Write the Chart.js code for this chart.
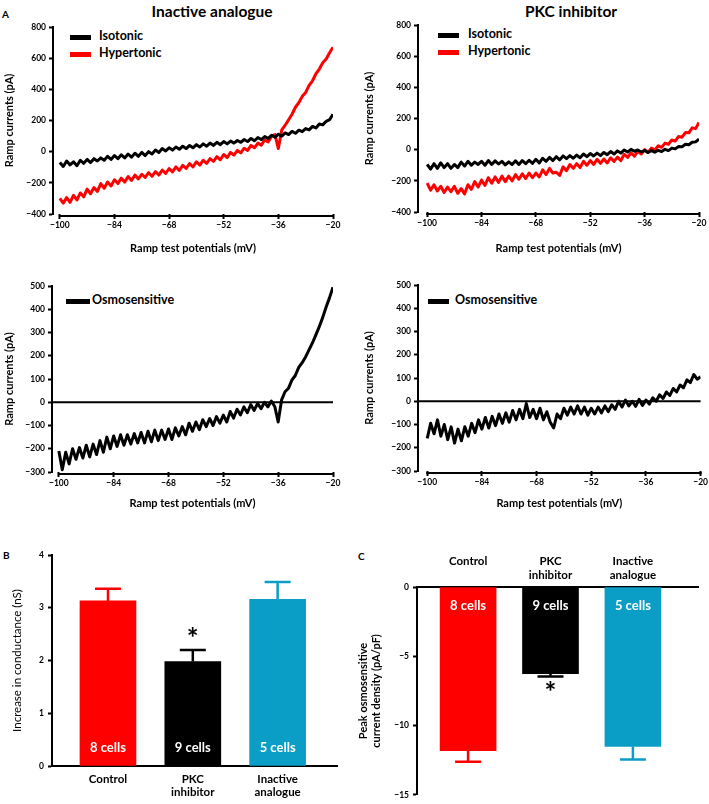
<!DOCTYPE html>
<html>
<head>
<meta charset="utf-8">
<script src="https://cdn.jsdelivr.net/npm/chart.js@4.4.1/dist/chart.umd.min.js"></script>
<style>
  body { margin: 0; background: #fff; width: 709px; height: 804px; position: relative; overflow: hidden; font-family: Lato, "Open Sans", sans-serif; }
  canvas { position: absolute; }
  .t { position: absolute; font-weight: bold; white-space: nowrap; color: #000; line-height: 1; }
  .c { transform: translate(-50%, -50%); }
  .l { transform: translateY(-50%); }
  .seg { position: absolute; height: 5px; width: 21px; }
</style>
</head>
<body>
<div class="t l" style="left:2px;top:14px;font-size:10px">A</div>
<div class="t l" style="left:3px;top:555px;font-size:10px">B</div>
<div class="t l" style="left:358px;top:556px;font-size:10px">C</div>

<div class="t c" style="left:212px;top:12px;font-size:15.5px">Inactive analogue</div>
<div class="t c" style="left:571px;top:12px;font-size:15.5px">PKC inhibitor</div>

<div class="seg" style="left:70px;top:35px;background:#000"></div>
<div class="t l" style="left:99px;top:36px;font-size:12.5px">Isotonic</div>
<div class="seg" style="left:70px;top:52px;background:#f00"></div>
<div class="t l" style="left:99px;top:53px;font-size:12.5px">Hypertonic</div>

<div class="seg" style="left:438px;top:33px;background:#000"></div>
<div class="t l" style="left:468px;top:34px;font-size:12.5px">Isotonic</div>
<div class="seg" style="left:438px;top:50px;background:#f00"></div>
<div class="t l" style="left:468px;top:51px;font-size:12.5px">Hypertonic</div>

<div class="seg" style="left:66px;top:299px;background:#000;width:24px"></div>
<div class="t l" style="left:92px;top:300px;font-size:12.5px">Osmosensitive</div>
<div class="seg" style="left:428px;top:299px;background:#000"></div>
<div class="t l" style="left:455px;top:300px;font-size:12.5px">Osmosensitive</div>

<canvas id="traceInactive" width="350" height="255" style="left:0;top:0"></canvas>
<canvas id="tracePkc" width="354" height="255" style="left:355px;top:0"></canvas>
<canvas id="osmoInactiveChart" width="350" height="250" style="left:0;top:260px"></canvas>
<canvas id="osmoPkcChart" width="354" height="250" style="left:355px;top:260px"></canvas>
<canvas id="conductanceChart" width="350" height="274" style="left:0;top:530px"></canvas>
<canvas id="densityChart" width="354" height="274" style="left:355px;top:530px"></canvas>

<script>
// ramp potentials (mV), one sample per mV
const potentials = [-100,-99,-98,-97,-96,-95,-94,-93,-92,-91,-90,-89,-88,-87,-86,-85,-84,-83,-82,-81,
  -80,-79,-78,-77,-76,-75,-74,-73,-72,-71,-70,-69,-68,-67,-66,-65,-64,-63,-62,-61,
  -60,-59,-58,-57,-56,-55,-54,-53,-52,-51,-50,-49,-48,-47,-46,-45,-44,-43,-42,-41,
  -40,-39,-38,-37,-36,-35,-34,-33,-32,-31,-30,-29,-28,-27,-26,-25,-24,-23,-22,-21,-20];
const potentialTicks = [-100, -84, -68, -52, -36, -20];

// inactive analogue currents (pA)
const isoInactive = [-70,-95,-60,-85,-65,-90,-55,-75,-50,-70,-45,-60,-40,-55,-30,-50,-25,-45,-20,-40,
  -15,-35,-10,-30,-5,-25,0,-15,10,-5,20,5,25,10,30,15,35,20,40,25,
  45,30,50,35,55,40,60,45,65,50,68,55,72,60,78,65,85,70,90,78,
  97,85,105,92,112,100,120,110,130,118,138,128,148,140,162,152,178,172,195,205,240];
const hyperInactive = [-300,-330,-295,-325,-280,-310,-265,-290,-240,-270,-230,-255,-205,-235,-195,-220,-180,-205,-170,-195,
  -160,-185,-150,-175,-145,-165,-135,-158,-128,-150,-118,-140,-108,-130,-98,-120,-88,-108,-76,-98,
  -66,-86,-55,-75,-45,-62,-32,-52,-18,-38,-5,-22,8,-8,22,8,40,25,55,42,
  75,62,98,110,20,140,170,205,240,285,315,355,380,425,455,500,530,570,595,635,670];

// PKC inhibitor currents (pA)
const isoPkc = [-95,-125,-90,-120,-85,-115,-90,-120,-95,-115,-80,-105,-75,-100,-80,-95,-75,-100,-70,-95,
  -72,-92,-75,-98,-78,-95,-72,-95,-70,-90,-68,-88,-62,-85,-55,-75,-50,-70,-45,-65,
  -40,-58,-38,-55,-35,-52,-28,-45,-25,-40,-22,-38,-18,-32,-12,-28,-8,-22,-2,-15,
  2,-10,-2,-15,-5,-18,-6,-16,-4,-12,2,-6,10,5,20,18,35,32,48,50,68];
const hyperPkc = [-215,-260,-225,-265,-235,-275,-240,-270,-235,-280,-250,-285,-225,-255,-205,-240,-195,-230,-180,-215,
  -175,-210,-170,-205,-170,-200,-160,-190,-155,-185,-150,-180,-150,-175,-130,-160,-120,-150,-145,-165,
  -110,-135,-95,-120,-90,-115,-75,-100,-70,-95,-62,-88,-60,-85,-52,-75,-48,-70,-30,-50,
  -20,-42,-10,-28,0,-18,10,-2,25,15,42,35,62,55,85,80,110,108,140,135,175];

// osmosensitive currents (pA)
const osmoInactive = [-210,-290,-215,-265,-200,-245,-195,-240,-185,-235,-180,-225,-165,-215,-150,-200,-145,-190,-140,-185,
  -140,-180,-135,-175,-130,-175,-125,-170,-120,-165,-120,-160,-115,-160,-110,-145,-105,-140,-90,-125,
  -85,-118,-75,-105,-70,-100,-62,-90,-55,-85,-40,-68,-30,-55,-20,-45,-10,-35,-5,-28,
  0,-20,5,-18,-85,10,45,60,95,115,150,170,195,225,255,290,325,365,410,450,495];
const osmoPkc = [-160,-95,-140,-80,-150,-100,-165,-110,-180,-120,-170,-110,-150,-95,-135,-80,-120,-70,-115,-65,
  -105,-55,-95,-50,-90,-40,-80,-35,-75,-10,-70,-35,-75,-30,-80,-45,-90,-115,-55,-75,
  -30,-60,-25,-55,-20,-55,-25,-60,-30,-55,-25,-50,-20,-45,-15,-35,0,-25,5,-20,
  0,-22,8,-18,5,-12,15,0,28,12,40,25,55,40,70,58,92,80,115,95,105];

// bar panels
const groups = [['Control'], ['PKC', 'inhibitor'], ['Inactive', 'analogue']];
const cellCounts = ['8 cells', '9 cells', '5 cells'];
const conductance = [3.13, 1.98, 3.16];      // nS
const conductanceSem = [0.23, 0.22, 0.33];
const density = [-11.8, -6.25, -11.5];       // pA/pF
const densitySem = [0.8, 0.2, 0.95];
const barColors = ['#ff0000', '#000000', '#0a9ec6'];

const tickFont = { family: 'Lato', size: 8.5, weight: 'bold' };
const titleFont = { family: 'Lato', size: 11, weight: 'bold' };
const minus = v => String(v).replace('-', '\u2212');

function traceChart(id, series, cfg) {
  // x axis line only spans the ramp, zero line on osmosensitive panels
  const axes = {
    id: 'axes',
    beforeDatasetsDraw(chart) {
      const { ctx, chartArea, scales: { x, y } } = chart;
      ctx.save();
      ctx.strokeStyle = '#000';
      ctx.lineWidth = 2;
      ctx.beginPath();
      ctx.moveTo(x.getPixelForValue(-100) - 1, chartArea.bottom + 2);
      ctx.lineTo(x.getPixelForValue(-20) + 1, chartArea.bottom + 2);
      if (cfg.zero) {
        ctx.moveTo(chartArea.left, y.getPixelForValue(0));
        ctx.lineTo(chartArea.right, y.getPixelForValue(0));
      }
      ctx.stroke();
      ctx.restore();
    }
  };
  new Chart(document.getElementById(id), {
    type: 'line',
    data: {
      datasets: series.map(s => ({
        data: potentials.map((p, i) => ({ x: p, y: s.values[i] })),
        borderColor: s.color,
        borderWidth: 3,
        borderJoinStyle: 'round',
        pointRadius: 0,
        tension: 0
      }))
    },
    options: {
      responsive: false,
      animation: false,
      events: [],
      layout: { padding: cfg.pad },
      plugins: { legend: { display: false }, tooltip: { enabled: false } },
      scales: {
        x: {
          type: 'linear', min: cfg.xmin, max: -20,
          afterBuildTicks: s => { s.ticks = potentialTicks.map(v => ({ value: v })); },
          afterFit: s => { s.height = cfg.xh; },
          border: { display: false },
          grid: { drawOnChartArea: false, tickLength: 5, tickWidth: 2, tickColor: '#000' },
          ticks: { color: '#000', font: tickFont, padding: 1, autoSkip: false, maxRotation: 0, callback: v => minus(v) },
          title: { display: true, text: 'Ramp test potentials (mV)', color: '#000', font: titleFont, padding: { top: cfg.xtp, bottom: 0 } }
        },
        y: {
          min: cfg.ymin, max: cfg.ymax,
          afterFit: s => { s.width = cfg.yw; },
          border: { color: '#000', width: 2 },
          grid: { drawOnChartArea: false, tickLength: 4, tickWidth: 2, tickColor: '#000' },
          ticks: { stepSize: cfg.ystep, color: '#000', font: tickFont, padding: 3, callback: v => minus(v) },
          title: { display: true, text: 'Ramp currents (pA)', color: '#000', font: titleFont, padding: { top: 0, bottom: 0 } }
        }
      }
    },
    plugins: [axes]
  });
}

traceChart('traceInactive',
  [{ values: isoInactive, color: '#000' }, { values: hyperInactive, color: '#ff0000' }],
  { pad: { left: 3, top: 27, right: 17, bottom: 0 }, yw: 50, xh: 41, xtp: 9, xmin: -102, ymin: -400, ymax: 800, ystep: 200 });

traceChart('tracePkc',
  [{ values: isoPkc, color: '#000' }, { values: hyperPkc, color: '#ff0000' }],
  { pad: { left: 8, top: 25, right: 10, bottom: 0 }, yw: 55, xh: 43, xtp: 9, xmin: -102.7, ymin: -400, ymax: 800, ystep: 200 });

traceChart('osmoInactiveChart',
  [{ values: osmoInactive, color: '#000' }],
  { zero: true, pad: { left: 3, top: 26, right: 17, bottom: 0 }, yw: 49, xh: 38, xtp: 7, xmin: -102, ymin: -300, ymax: 500, ystep: 100 });

traceChart('osmoPkcChart',
  [{ values: osmoPkc, color: '#000' }],
  { zero: true, pad: { left: 8, top: 25, right: 8, bottom: 0 }, yw: 55, xh: 39, xtp: 7, xmin: -102.7, ymin: -300, ymax: 500, ystep: 100 });

// error bars, cell counts and significance star
function barExtras(sem) {
  return {
    id: 'extras',
    afterDatasetsDraw(chart) {
      const { ctx, scales: { y } } = chart;
      ctx.save();
      chart.data.datasets.forEach((ds, i) => {
        const bar = chart.getDatasetMeta(i).data[0];
        const v = ds.data[0].y;
        const dir = Math.sign(v);
        const ey = y.getPixelForValue(v + dir * sem[i]);
        ctx.strokeStyle = ds.backgroundColor;
        ctx.lineWidth = 2.5;
        ctx.beginPath();
        ctx.moveTo(bar.x, bar.y);
        ctx.lineTo(bar.x, ey);
        ctx.moveTo(bar.x - 13, ey);
        ctx.lineTo(bar.x + 13, ey);
        ctx.stroke();

        ctx.fillStyle = '#fff';
        ctx.font = 'bold 13px Lato';
        ctx.textAlign = 'center';
        ctx.textBaseline = 'middle';
        ctx.fillText(cellCounts[i], bar.x, bar.base - dir * 18);

        if (i === 1) {
          ctx.fillStyle = '#000';
          ctx.font = 'bold 28px Lato';
          ctx.textBaseline = 'alphabetic';
          ctx.fillText('*', bar.x, dir > 0 ? ey - 2 : ey + 26);
        }
      });
      ctx.restore();
    }
  };
}

new Chart(document.getElementById('conductanceChart'), {
  type: 'bar',
  data: {
    datasets: groups.map((g, i) => ({
      data: [{ x: i, y: conductance[i] }],
      backgroundColor: barColors[i],
      barThickness: 56,
      grouped: false
    }))
  },
  options: {
    responsive: false,
    animation: false,
    events: [],
    layout: { padding: { left: 10, top: 25, right: 13, bottom: 0 } },
    plugins: { legend: { display: false }, tooltip: { enabled: false } },
    scales: {
      x: {
        type: 'linear', min: -0.66, max: 2.7, offset: false,
        afterBuildTicks: s => { s.ticks = groups.map((g, i) => ({ value: i })); },
        afterFit: s => { s.height = 38; },
        border: { color: '#000', width: 2 },
        grid: { drawOnChartArea: false, drawTicks: false },
        ticks: { color: '#000', font: { family: 'Lato', size: 11.5, weight: 'bold' }, padding: 6, autoSkip: false, maxRotation: 0, callback: v => groups[v] }
      },
      y: {
        min: 0, max: 4,
        afterFit: s => { s.width = 42; },
        border: { color: '#000', width: 2 },
        grid: { drawOnChartArea: false, tickLength: 4, tickWidth: 2, tickColor: '#000' },
        ticks: { stepSize: 1, color: '#000', font: tickFont, padding: 4 },
        title: { display: true, text: 'Increase in conductance (nS)', color: '#000', font: { family: 'Lato', size: 11.5 }, padding: { top: 0, bottom: 2 } }
      }
    }
  },
  plugins: [barExtras(conductanceSem)]
});

new Chart(document.getElementById('densityChart'), {
  type: 'bar',
  data: {
    datasets: groups.map((g, i) => ({
      data: [{ x: i, y: density[i] }],
      backgroundColor: barColors[i],
      barThickness: 56,
      grouped: false
    }))
  },
  options: {
    responsive: false,
    animation: false,
    events: [],
    layout: { padding: { left: 2, top: 0, right: 11, bottom: 7 } },
    plugins: { legend: { display: false }, tooltip: { enabled: false } },
    scales: {
      x: {
        type: 'linear', position: 'top', min: -0.62, max: 2.79, offset: false,
        afterBuildTicks: s => { s.ticks = groups.map((g, i) => ({ value: i })); },
        afterFit: s => { s.height = 57; },
        border: { color: '#000', width: 2 },
        grid: { drawOnChartArea: false, drawTicks: false },
        ticks: { color: '#000', font: { family: 'Lato', size: 11.5, weight: 'bold' }, padding: 5, autoSkip: false, maxRotation: 0,
          callback: v => groups[v].length > 1 ? groups[v] : [groups[v][0], ''] }
      },
      y: {
        min: -15, max: 0,
        afterFit: s => { s.width = 60; },
        border: { color: '#000', width: 2 },
        grid: { drawOnChartArea: false, tickLength: 4, tickWidth: 2, tickColor: '#000' },
        ticks: { stepSize: 5, color: '#000', font: tickFont, padding: 4, callback: v => minus(v) },
        title: { display: true, text: ['Peak osmosensitive', 'current density (pA/pF)'], color: '#000', font: titleFont, padding: { top: 0, bottom: 2 } }
      }
    }
  },
  plugins: [barExtras(densitySem)]
});
</script>
</body>
</html>
